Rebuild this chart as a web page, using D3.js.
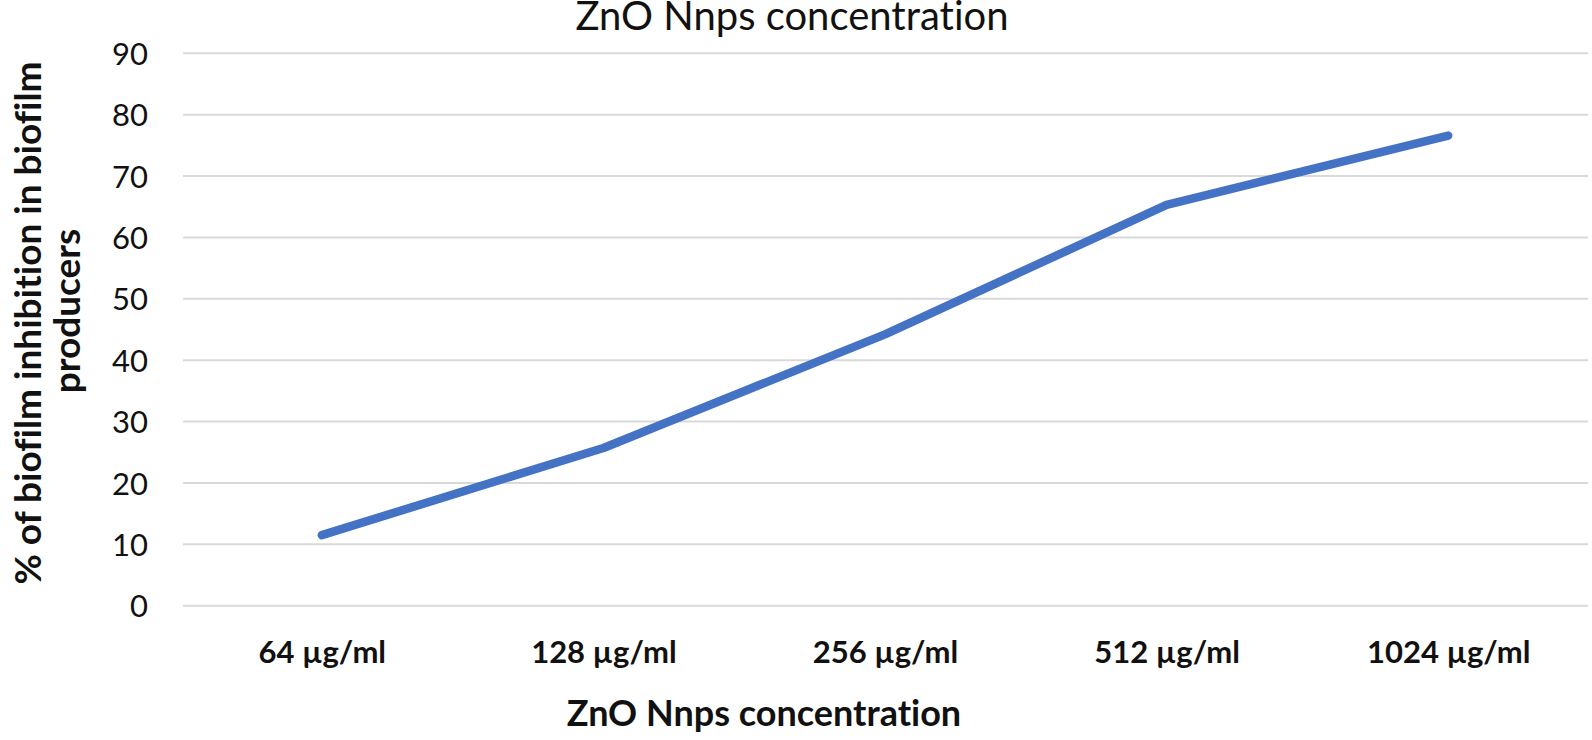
<!DOCTYPE html>
<html>
<head>
<meta charset="utf-8">
<script src="https://cdn.jsdelivr.net/npm/d3@7"></script>
<style>
  html, body { margin: 0; padding: 0; background: #fff; }
  svg { display: block; }
  text { font-variant-ligatures: none; font-feature-settings: "liga" 0, "clig" 0; }
</style>
</head>
<body>
<svg id="chart" width="1592" height="740"></svg>
<script>
const categories = ["64 µg/ml", "128 µg/ml", "256 µg/ml", "512 µg/ml", "1024 µg/ml"];
const inhibition = [11.5, 25.7, 44.2, 65.3, 76.6];
const yTicks = [0, 10, 20, 30, 40, 50, 60, 70, 80, 90];
const chartTitle = "ZnO Nnps concentration";
const xTitle = "ZnO Nnps concentration";
const yTitleLines = ["% of biofilm inhibition in biofilm", "producers"];

const svg = d3.select("#chart");
const plot = { left: 183, right: 1588, top: 53.3, bottom: 605.7 };

const x = d3.scalePoint().domain(categories).range([181, 1589]).padding(0.5);
const y = d3.scaleLinear().domain([0, 90]).range([plot.bottom, plot.top]);

const font = "Lato, 'Open Sans', sans-serif";

// gridlines
svg.append("g")
  .selectAll("line")
  .data(yTicks)
  .join("line")
  .attr("x1", plot.left).attr("x2", plot.right)
  .attr("y1", d => y(d)).attr("y2", d => y(d))
  .attr("stroke", "#d9d9d9")
  .attr("stroke-width", 2);

// y axis tick labels
const yAxis = d3.axisLeft(y).tickValues(yTicks).tickSize(0).tickPadding(0);
const gy = svg.append("g").attr("transform", "translate(148,0)").call(yAxis);
gy.select(".domain").remove();
gy.selectAll("text")
  .attr("font-family", font)
  .attr("font-size", 31)
  .attr("fill", "#111")
  .attr("dy", "0.36em");

// x axis tick labels
const xAxis = d3.axisBottom(x).tickSize(0).tickPadding(0);
const gx = svg.append("g").attr("transform", "translate(0,641)").call(xAxis);
gx.select(".domain").remove();
gx.selectAll("text")
  .attr("font-family", font)
  .attr("font-weight", "bold")
  .attr("font-size", 31)
  .attr("fill", "#111")
  .attr("dy", "0.7em");

// line
const line = d3.line()
  .x((d, i) => x(categories[i]))
  .y(d => y(d));
svg.append("path")
  .datum(inhibition)
  .attr("d", line)
  .attr("fill", "none")
  .attr("stroke", "#4472c4")
  .attr("stroke-width", 8.5)
  .attr("stroke-linecap", "round")
  .attr("stroke-linejoin", "round");

// chart title
svg.append("text")
  .attr("x", 792).attr("y", 30)
  .attr("text-anchor", "middle")
  .attr("font-family", font)
  .attr("font-size", 40)
  .attr("fill", "#111")
  .text(chartTitle);

// x title
svg.append("text")
  .attr("x", 764).attr("y", 726)
  .attr("text-anchor", "middle")
  .attr("font-family", font)
  .attr("font-weight", "bold")
  .attr("font-size", 36)
  .attr("fill", "#111")
  .text(xTitle);

// y title (two lines, rotated)
const yt = svg.append("text")
  .attr("transform", "rotate(-90)")
  .attr("text-anchor", "middle")
  .attr("font-family", font)
  .attr("font-weight", "bold")
  .attr("font-size", 37)
  .attr("fill", "#111");
yt.append("tspan").attr("x", -323).attr("y", 41).text(yTitleLines[0]);
yt.append("tspan").attr("x", -311).attr("y", 80).text(yTitleLines[1]);
</script>
</body>
</html>
